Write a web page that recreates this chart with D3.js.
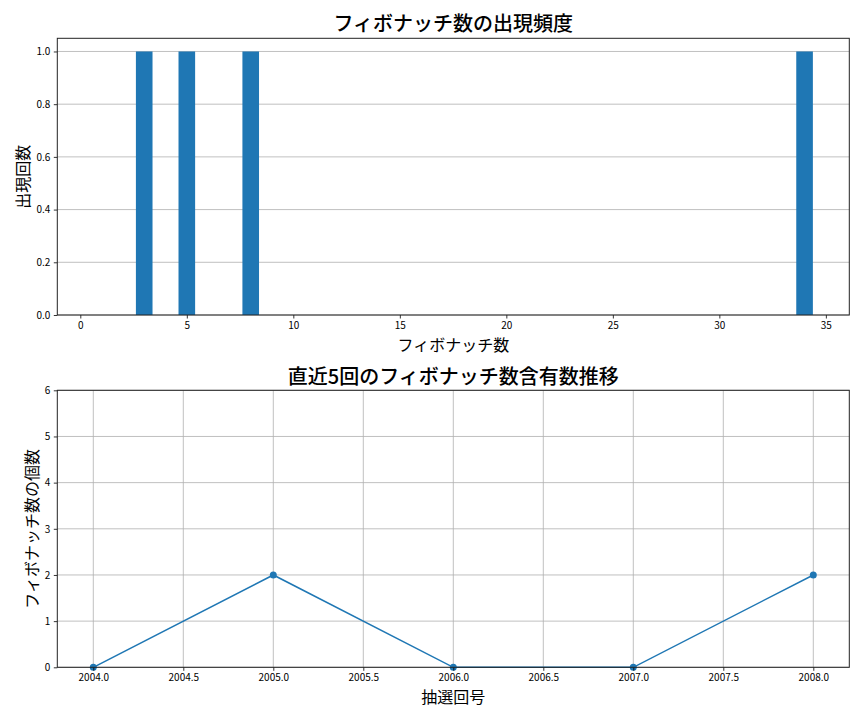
<!DOCTYPE html>
<html>
<head>
<meta charset="utf-8">
<script src="https://cdn.jsdelivr.net/npm/d3@7"></script>
<style>
  body { margin: 0; background: #fff; }
  svg text { font-family: "Noto Sans CJK JP", "Noto Sans", sans-serif; fill: #000; }
</style>
</head>
<body>
<div id="chart"></div>
<script>
// top chart data: which fibonacci numbers appeared and how often
var fibNumbers = [3, 5, 8, 34];
var fibCounts = [1, 1, 1, 1];
var topYTicks = [0, 0.2, 0.4, 0.6, 0.8, 1.0];
var topXTicks = [0, 5, 10, 15, 20, 25, 30, 35];

// bottom chart data: recent draws
var drawNumbers = [2004, 2005, 2006, 2007, 2008];
var fibPerDraw = [0, 2, 0, 0, 2];
var bottomYTicks = [0, 1, 2, 3, 4, 5, 6];
var bottomXTicks = [2004, 2004.5, 2005, 2005.5, 2006, 2006.5, 2007, 2007.5, 2008];

var W = 864, H = 720;
var blue = "#1f77b4";
var gridColor = "#b0b0b0";

var svg = d3.select("#chart").append("svg")
    .attr("width", W)
    .attr("height", H);

// ---------- top: histogram style bar chart ----------
var m1 = { left: 57.3, right: 849.3, top: 38.3, bottom: 315 };

var x1 = d3.scaleLinear().domain([-1.08, 36.1]).range([m1.left, m1.right]);
var y1 = d3.scaleLinear().domain([0, 1.05]).range([m1.bottom, m1.top]);

var g1 = svg.append("g");

// horizontal grid lines
g1.selectAll(".grid")
    .data(topYTicks)
    .enter()
    .append("line")
    .attr("x1", m1.left)
    .attr("x2", m1.right)
    .attr("y1", function(d) { return y1(d); })
    .attr("y2", function(d) { return y1(d); })
    .attr("stroke", gridColor)
    .attr("stroke-width", 0.8);

// bars (width 0.8 like matplotlib)
g1.selectAll("rect.bar")
    .data(fibNumbers)
    .enter()
    .append("rect")
    .attr("class", "bar")
    .attr("x", function(d) { return x1(d - 0.39); })
    .attr("width", function(d) { return x1(0.78) - x1(0); })
    .attr("y", function(d, i) { return y1(fibCounts[i]); })
    .attr("height", function(d, i) { return y1(0) - y1(fibCounts[i]); })
    .attr("fill", blue);

g1.append("g")
    .attr("transform", "translate(0," + m1.bottom + ")")
    .call(d3.axisBottom(x1).tickValues(topXTicks).tickSize(3.5).tickPadding(3))
    .call(styleAxis);

g1.append("g")
    .attr("transform", "translate(" + m1.left + ",0)")
    .call(d3.axisLeft(y1).tickValues(topYTicks).tickFormat(d3.format(".1f")).tickSize(3.5).tickPadding(3.5))
    .call(styleAxis);

frame(g1, m1);

svg.append("text")
    .attr("x", (m1.left + m1.right) / 2)
    .attr("y", 31)
    .attr("text-anchor", "middle")
    .attr("font-size", 20)
    .attr("font-weight", 500)
    .text("フィボナッチ数の出現頻度");

svg.append("text")
    .attr("x", (m1.left + m1.right) / 2)
    .attr("y", 351)
    .attr("text-anchor", "middle")
    .attr("font-size", 16)
    .text("フィボナッチ数");

svg.append("text")
    .attr("transform", "translate(29," + (m1.top + m1.bottom) / 2 + ") rotate(-90)")
    .attr("text-anchor", "middle")
    .attr("font-size", 16)
    .text("出現回数");

// ---------- bottom: line chart ----------
var m2 = { left: 57.3, right: 849.3, top: 390.3, bottom: 667.3 };

var x2 = d3.scaleLinear().domain([2003.8, 2008.2]).range([m2.left, m2.right]);
var y2 = d3.scaleLinear().domain([0, 6]).range([m2.bottom, m2.top]);

var g2 = svg.append("g");

g2.selectAll(".hgrid")
    .data(bottomYTicks)
    .enter()
    .append("line")
    .attr("x1", m2.left)
    .attr("x2", m2.right)
    .attr("y1", function(d) { return y2(d); })
    .attr("y2", function(d) { return y2(d); })
    .attr("stroke", gridColor)
    .attr("stroke-width", 0.8);

g2.selectAll(".vgrid")
    .data(bottomXTicks)
    .enter()
    .append("line")
    .attr("x1", function(d) { return x2(d); })
    .attr("x2", function(d) { return x2(d); })
    .attr("y1", m2.top)
    .attr("y2", m2.bottom)
    .attr("stroke", gridColor)
    .attr("stroke-width", 0.8);

var line = d3.line()
    .x(function(d, i) { return x2(drawNumbers[i]); })
    .y(function(d) { return y2(d); });

g2.append("path")
    .datum(fibPerDraw)
    .attr("d", line)
    .attr("fill", "none")
    .attr("stroke", blue)
    .attr("stroke-width", 1.5);

g2.selectAll("circle")
    .data(fibPerDraw)
    .enter()
    .append("circle")
    .attr("cx", function(d, i) { return x2(drawNumbers[i]); })
    .attr("cy", function(d) { return y2(d); })
    .attr("r", 3.5)
    .attr("fill", blue);

g2.append("g")
    .attr("transform", "translate(0," + m2.bottom + ")")
    .call(d3.axisBottom(x2).tickValues(bottomXTicks).tickFormat(d3.format(".1f")).tickSize(3.5).tickPadding(3))
    .call(styleAxis);

g2.append("g")
    .attr("transform", "translate(" + m2.left + ",0)")
    .call(d3.axisLeft(y2).tickValues(bottomYTicks).tickFormat(d3.format("d")).tickSize(3.5).tickPadding(3.5))
    .call(styleAxis);

frame(g2, m2);

svg.append("text")
    .attr("x", (m2.left + m2.right) / 2)
    .attr("y", 384)
    .attr("text-anchor", "middle")
    .attr("font-size", 20)
    .attr("font-weight", 500)
    .text("直近5回のフィボナッチ数含有数推移");

svg.append("text")
    .attr("x", (m2.left + m2.right) / 2)
    .attr("y", 703)
    .attr("text-anchor", "middle")
    .attr("font-size", 16)
    .text("抽選回号");

svg.append("text")
    .attr("transform", "translate(38," + (m2.top + m2.bottom) / 2 + ") rotate(-90)")
    .attr("text-anchor", "middle")
    .attr("font-size", 16)
    .text("フィボナッチ数の個数");

// helpers
function styleAxis(sel) {
    sel.select(".domain").remove();
    sel.selectAll(".tick line").attr("stroke", "#000").attr("stroke-width", 0.8);
    sel.selectAll(".tick text").attr("font-size", 10).attr("fill", "#000")
        .style("font-family", "\"Noto Sans CJK JP\", sans-serif");
}

function frame(g, m) {
    g.append("rect")
        .attr("x", m.left)
        .attr("y", m.top)
        .attr("width", m.right - m.left)
        .attr("height", m.bottom - m.top)
        .attr("fill", "none")
        .attr("stroke", "#222")
        .attr("stroke-width", 1);
}
</script>
</body>
</html>
